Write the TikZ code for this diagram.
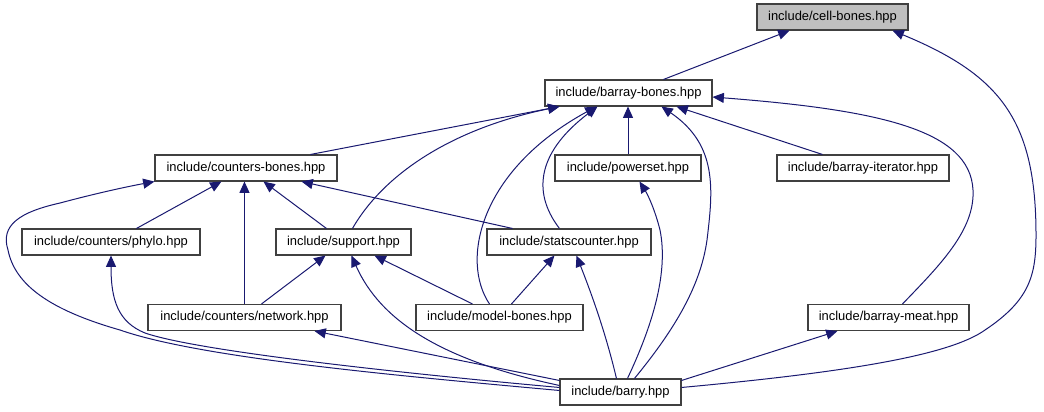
\documentclass[tikz,border=0pt]{standalone}
\usepackage{fontspec}
\setmainfont{Liberation Sans}
\usetikzlibrary{arrows.meta,calc}
\definecolor{edgec}{HTML}{191970}
\definecolor{boxc}{HTML}{404040}
\definecolor{cellfill}{HTML}{BFBFBF}
\begin{document}
\begin{tikzpicture}[x=0.75pt,y=-0.75pt,
  file/.style={draw=boxc, line width=0.8pt, fill=white, minimum height=19.5pt, inner sep=0pt,
    font=\fontsize{9.7}{11}\selectfont},
  edge/.style={draw=edgec, line width=0.75pt, -{Triangle[length=8.5pt,width=7.5pt]}}]
\useasboundingbox (0,0) rectangle (1044,411);

\node[file, fill=cellfill, minimum width=113.25pt] (cellbones) at (832.5,17) {include/cell-bones.hpp};
\node[file, minimum width=125.25pt] (barraybones) at (628.5,93) {include/barray-bones.hpp};
\node[file, minimum width=136.5pt] (countersbones) at (246,168) {include/counters-bones.hpp};
\node[file, minimum width=109.5pt] (powerset) at (628,168) {include/powerset.hpp};
\node[file, minimum width=129pt] (iterator) at (863,168) {include/barray-iterator.hpp};
\node[file, minimum width=133.5pt] (phylo) at (111,242) {include/counters/phylo.hpp};
\node[file, minimum width=101.25pt] (support) at (343.5,242) {include/support.hpp};
\node[file, minimum width=123pt] (stats) at (569,242) {include/statscounter.hpp};
\node[file, minimum width=144.75pt] (network) at (244.5,317.5) {include/counters/network.hpp};
\node[file, minimum width=125.25pt] (model) at (499.5,317.5) {include/model-bones.hpp};
\node[file, minimum width=120.75pt] (meat) at (888.5,317.5) {include/barray-meat.hpp};
\node[file, minimum width=90.75pt] (barry) at (620.5,392) {include/barry.hpp};

% into cell-bones
\draw[edge] ($(barraybones.north west)+(119,0)$) -- ($(cellbones.south west)+(33,0)$);
\draw[edge] ($(barry.north east)+(0,9)$) .. controls (850,372) and (950,355) .. (985,330)
  .. controls (1030,300) and (1036,275) .. (1036,235)
  .. controls (1036,120) and (1000,75) .. ($(cellbones.south east)+(-16,0)$);

% into barray-bones
\draw[edge] ($(countersbones.north west)+(156,0)$) -- ($(barraybones.south west)+(15,0)$);
\draw[edge] ($(support.north west)+(77,0)$) .. controls (385,172) and (455,128) .. ($(barraybones.south west)+(15,0)$);
\draw[edge] ($(model.north west)+(74,0)$) .. controls (460,260) and (480,170) .. ($(barraybones.south west)+(52,0)$);
\draw[edge] ($(stats.north west)+(73,0)$) .. controls (530,190) and (540,150) .. ($(barraybones.south west)+(53,0)$);
\draw[edge] (powerset.north) -- (powerset.north |- barraybones.south);
\draw[edge] ($(barry.north west)+(75,0)$) .. controls (670,335) and (700,290) .. (707,240)
  .. controls (713,190) and (718,145) .. ($(barraybones.south west)+(117,0)$);
\draw[edge] ($(iterator.north west)+(46,0)$) -- ($(barraybones.south west)+(132,0)$);
\draw[edge] ($(meat.north west)+(95,0)$) .. controls (940,265) and (975,230) .. (973,190)
  .. controls (970,130) and (880,110) .. ($(barraybones.east)+(0,4)$);

% into counters-bones
\draw[edge] ($(phylo.north west)+(115,0)$) -- ($(countersbones.south west)+(67,0)$);
\draw[edge] ($(network.north west)+(97,0)$) -- ($(countersbones.south west)+(90,0)$);
\draw[edge] ($(support.north west)+(51,0)$) -- ($(countersbones.south west)+(109,0)$);
\draw[edge] ($(stats.north west)+(26,0)$) -- ($(countersbones.south west)+(147,0)$);
\draw[edge] ($(barry.north west)+(0,12)$) .. controls (400,376) and (200,358) .. (120,330)
  .. controls (50,310) and (15,285) .. (8,250)
  .. controls (0,225) and (20,212) .. (60,203)
  .. controls (90,195) and (120,188) .. (countersbones.south west);

% into phylo
\draw[edge] ($(barry.north west)+(0,9)$) .. controls (420,375) and (200,352) .. (145,333)
  .. controls (118,322) and (111,300) .. (phylo.south);

% into support
\draw[edge] ($(network.north west)+(114,0)$) -- ($(support.south west)+(50,0)$);
\draw[edge] ($(model.north west)+(57,0)$) -- ($(support.south west)+(99,0)$);
\draw[edge] ($(barry.north west)+(0,7)$) .. controls (440,360) and (380,320) .. ($(support.south west)+(76,0)$);

% into network
\draw[edge] ($(barry.north west)+(0,2)$) -- ($(network.south west)+(167,0)$);

% into statscounter
\draw[edge] ($(model.north west)+(96,0)$) -- ($(stats.south west)+(68,0)$);
\draw[edge] ($(barry.north west)+(57,0)$) .. controls (605,330) and (590,290) .. ($(stats.south west)+(90,0)$);

% into powerset
\draw[edge] ($(barry.north west)+(68,0)$) .. controls (655,320) and (668,270) .. (660,230)
  .. controls (655,210) and (648,195) .. ($(powerset.south west)+(85,0)$);

% into barray-meat
\draw[edge] ($(barry.north east)+(0,2)$) -- ($(meat.south west)+(30,0)$);
\end{tikzpicture}
\end{document}
